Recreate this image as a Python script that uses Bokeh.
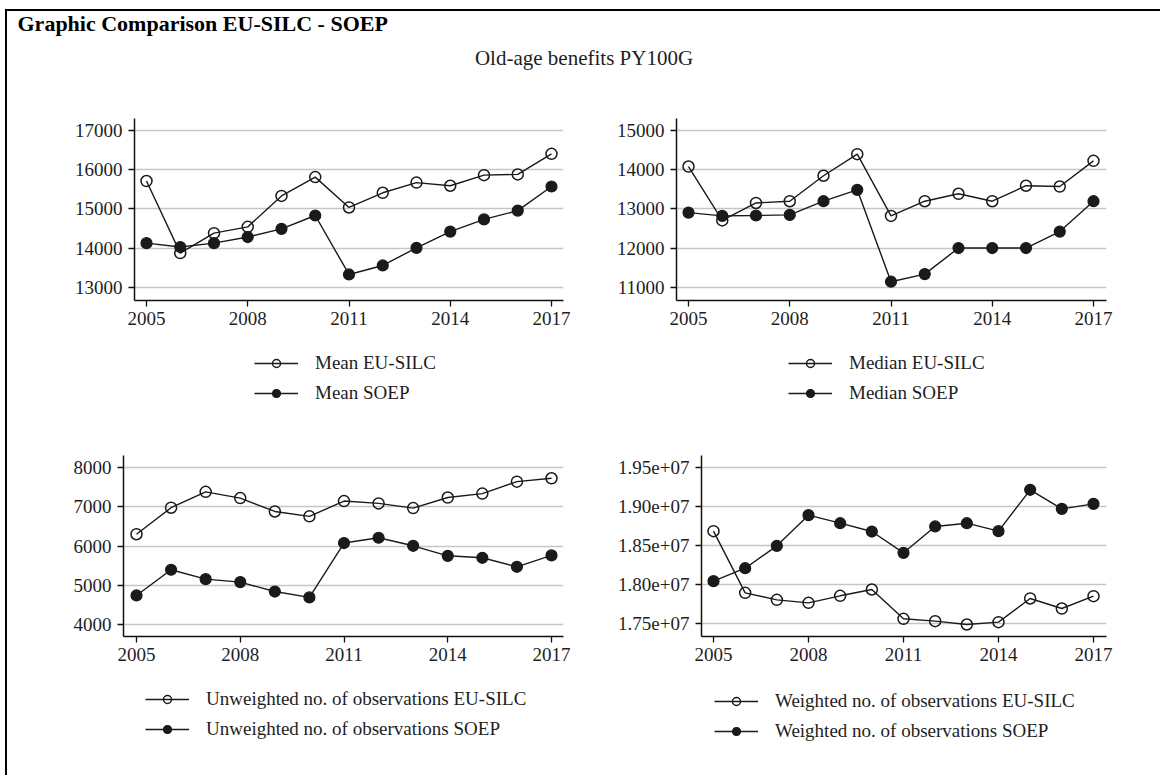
from bokeh.plotting import figure
from bokeh.layouts import column, row
from bokeh.models import Range1d, FixedTicker, Legend, LegendItem, Title
from bokeh.embed import file_html
from bokeh.resources import INLINE

# ---------------- data ----------------
years = [2005, 2006, 2007, 2008, 2009, 2010, 2011, 2012, 2013, 2014, 2015, 2016, 2017]

mean_eusilc = [15710, 13870, 14380, 14540, 15330, 15810, 15035, 15410, 15670, 15590, 15860, 15880, 16405]
mean_soep = [14125, 14025, 14125, 14280, 14490, 14830, 13325, 13555, 14005, 14420, 14730, 14955, 15570]

median_eusilc = [14080, 12705, 13150, 13195, 13845, 14395, 12820, 13195, 13385, 13195, 13590, 13570, 14225]
median_soep = [12905, 12820, 12830, 12845, 13195, 13485, 11140, 11335, 12000, 12000, 12000, 12420, 13195]

unw_eusilc = [6300, 6975, 7380, 7220, 6880, 6755, 7145, 7085, 6965, 7235, 7335, 7640, 7725]
unw_soep = [4740, 5395, 5155, 5080, 4840, 4690, 6075, 6210, 6005, 5750, 5700, 5470, 5760]

w_eusilc = [18684000, 17893000, 17803000, 17765000, 17855000, 17936000, 17560000,
            17530000, 17487000, 17517000, 17821000, 17692000, 17850000]
w_soep = [18043000, 18209000, 18496000, 18889000, 18786000, 18679000, 18406000,
          18744000, 18786000, 18684000, 19214000, 18970000, 19034000]

x_ticks = [2005, 2008, 2011, 2014, 2017]
mean_ticks = [13000, 14000, 15000, 16000, 17000]
median_ticks = [11000, 12000, 13000, 14000, 15000]
unw_ticks = [4000, 5000, 6000, 7000, 8000]
w_ticks = [17500000, 18000000, 18500000, 19000000, 19500000]
w_tick_labels = ["1.75e+07", "1.80e+07", "1.85e+07", "1.90e+07", "1.95e+07"]

main_title = "Graphic Comparison EU-SILC - SOEP"
sub_title = "Old-age benefits PY100G"

mean_labels = ["Mean EU-SILC", "Mean SOEP"]
median_labels = ["Median EU-SILC", "Median SOEP"]
unw_labels = ["Unweighted no. of observations EU-SILC", "Unweighted no. of observations SOEP"]
w_labels = ["Weighted no. of observations EU-SILC", "Weighted no. of observations SOEP"]

# ---------------- style ----------------
FONT = "Liberation Serif"
TXT = "#1e1e1e"
LINE = "#1a1a1a"
HOLLOW = dict(marker="circle", size=11, fill_color=None, line_color=LINE, line_width=1.5)
SOLID = dict(marker="circle", size=11, fill_color=LINE, line_color=LINE, line_width=1.2)


def add_series(p, s1, s2, visible=True):
    l1 = p.line(years, s1, line_color=LINE, line_width=1.4, visible=visible)
    c1 = p.scatter(years, s1, visible=visible, **HOLLOW)
    l2 = p.line(years, s2, line_color=LINE, line_width=1.4, visible=visible)
    c2 = p.scatter(years, s2, visible=visible, **SOLID)
    return (l1, c1), (l2, c2)


def panel(xr, yr, yticks, s1, s2, left, fw, right, top, fh, overrides=None):
    p = figure(frame_width=fw, frame_height=fh,
               x_range=Range1d(*xr), y_range=Range1d(*yr),
               output_backend="svg", toolbar_location=None, title=None,
               min_border_left=left, min_border_right=right,
               min_border_top=top, min_border_bottom=35)
    p.outline_line_color = None
    p.xgrid.visible = False
    p.ygrid.grid_line_color = "#c6c6c6"
    p.ygrid.grid_line_width = 1.3
    p.xaxis.ticker = FixedTicker(ticks=x_ticks)
    p.yaxis.ticker = FixedTicker(ticks=yticks)
    if overrides:
        p.yaxis.major_label_overrides = overrides
    for ax in (p.xaxis[0], p.yaxis[0]):
        ax.axis_line_color = "#111111"
        ax.axis_line_width = 1.5
        ax.major_tick_line_color = "#111111"
        ax.major_tick_line_width = 1.3
        ax.major_tick_out = 6
        ax.major_tick_in = 0
        ax.minor_tick_line_color = None
        ax.major_label_text_font = FONT
        ax.major_label_text_font_size = "19px"
        ax.major_label_text_color = TXT
        ax.major_label_standoff = 5
    p.yaxis.major_label_standoff = 6
    add_series(p, s1, s2)
    return p


def legend_box(width, height, s1, s2, labels, loc):
    # the frame of this figure is aligned with the frame of the panel above it
    lf = figure(width=width, height=height, x_axis_type=None, y_axis_type=None,
                output_backend="svg", toolbar_location=None, title=None, min_border=0)
    lf.outline_line_color = None
    r1, r2 = add_series(lf, s1, s2, visible=False)
    leg = Legend(items=[LegendItem(label=labels[0], renderers=list(r1)),
                        LegendItem(label=labels[1], renderers=list(r2))],
                 location=loc, orientation="vertical",
                 border_line_color=None, background_fill_alpha=0,
                 inactive_fill_alpha=0,
                 glyph_width=44, glyph_height=20, label_height=22,
                 label_standoff=17, spacing=8, padding=10, margin=0,
                 label_text_font=FONT, label_text_font_size="19px",
                 label_text_color=TXT)
    lf.add_layout(leg, "center")
    return lf


def yrange(t0, t1, frame_top, frame_bottom, px_t1, px_t0):
    per_px = (t1 - t0) / (px_t0 - px_t1)
    return (t0 - (frame_bottom - px_t0) * per_px, t1 + (px_t1 - frame_top) * per_px)


def xrange(px_first, px_last, frame_left, frame_right):
    per_px = (x_ticks[-1] - x_ticks[0]) / (px_last - px_first)
    return (x_ticks[0] - (px_first - frame_left) * per_px,
            x_ticks[-1] + (frame_right - px_last) * per_px)


# header
hdr = figure(width=1153, height=60, x_axis_type=None, y_axis_type=None,
             toolbar_location=None, output_backend="svg", min_border=0,
             title=main_title)
hdr.outline_line_color = None
hdr.title.text_font = FONT
hdr.title.text_font_size = "22px"
hdr.title.text_font_style = "bold"
hdr.title.text_color = "black"
hdr.title.align = "left"
hdr.title.offset = 10
hdr.title.standoff = 0
hdr.add_layout(Title(text=sub_title, align="center", text_font=FONT,
                     text_font_size="21px", text_font_style="normal",
                     text_color=TXT), "below")

# top row: frames y 118..300
tl = panel(xrange(146, 551, 134, 563), yrange(mean_ticks[0], mean_ticks[-1], 118, 300, 130, 286.7),
           mean_ticks, mean_eusilc, mean_soep, left=127, fw=429, right=37, top=47, fh=182)
tr = panel(xrange(688, 1093, 676, 1106), yrange(median_ticks[0], median_ticks[-1], 118, 300, 130, 286.7),
           median_ticks, median_eusilc, median_soep, left=76, fw=430, right=54, top=47, fh=182)
tl_leg = legend_box(593, 90, mean_eusilc, mean_soep, mean_labels, (120, 21))
tr_leg = legend_box(560, 90, median_eusilc, median_soep, median_labels, (112, 21))

# bottom row: frames y 455..636
bl = panel(xrange(136, 551, 123, 563), yrange(unw_ticks[0], unw_ticks[-1], 455, 636, 467, 624),
           unw_ticks, unw_eusilc, unw_soep, left=116, fw=440, right=37, top=30, fh=181)
br = panel(xrange(713, 1093, 701, 1106), yrange(w_ticks[0], w_ticks[-1], 455, 636, 467, 623),
           w_ticks, w_eusilc, w_soep, left=101, fw=405, right=54, top=30, fh=181,
           overrides={t: s for t, s in zip(w_ticks, w_tick_labels)})
bl_leg = legend_box(593, 104, unw_eusilc, unw_soep, unw_labels, (22, 35))
br_leg = legend_box(560, 104, w_eusilc, w_soep, w_labels, (13, 33))

layout = column(hdr,
                row(column(tl, tl_leg), column(tr, tr_leg)),
                row(column(bl, bl_leg), column(br, br_leg)),
                margin=(9, 0, 0, 5),
                styles={"border-top": "2px solid black", "border-left": "2px solid black",
                        "background-color": "white"})

open("out.html", "w").write(file_html(layout, INLINE))
